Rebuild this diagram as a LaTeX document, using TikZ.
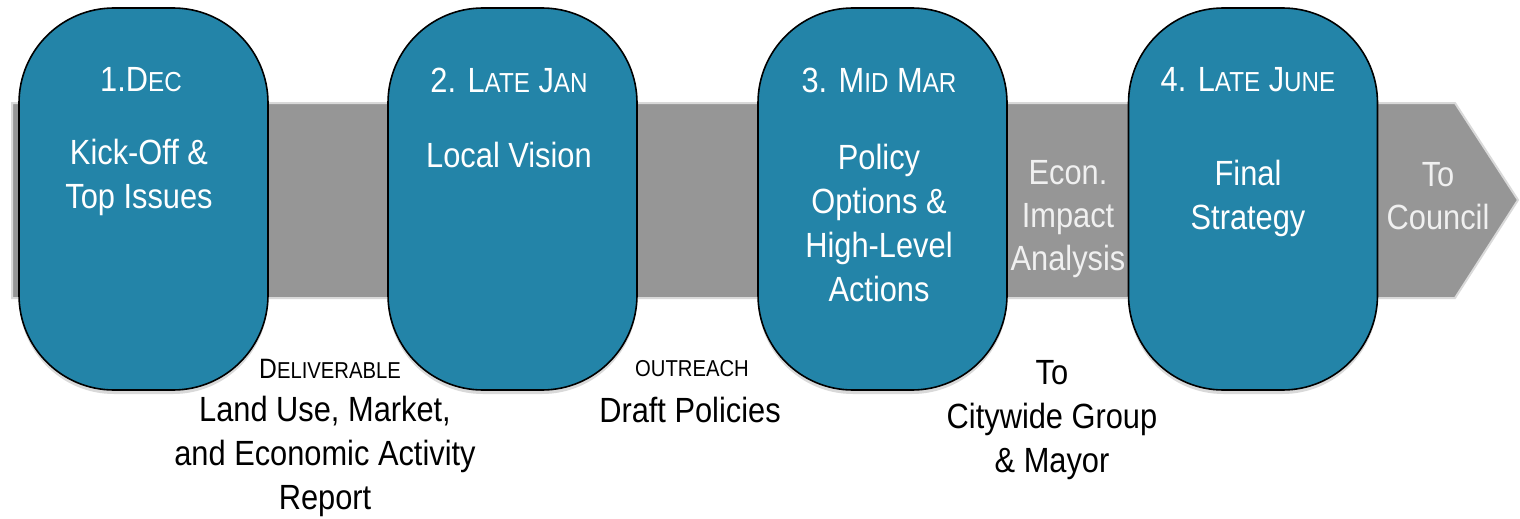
\documentclass[tikz,border=0pt]{standalone}
\usepackage{fontspec}
\setmainfont{Liberation Sans}[FakeStretch=0.88]
\usetikzlibrary{shadows}
\definecolor{boxblue}{RGB}{35,132,168}
\definecolor{arrowgray}{RGB}{150,150,150}
\definecolor{lighttext}{RGB}{240,240,240}
\newcommand\mysc[1]{{\fontsize{27.5}{27.5}\selectfont #1}}
\newcommand\mytiny[1]{{\fontsize{23}{23}\selectfont #1}}
\tikzset{
  stage/.style={draw=black, line width=1.6pt, fill=boxblue, rounded corners=95pt,
    minimum width=249pt, minimum height=382pt, inner sep=0pt,
    drop shadow={shadow xshift=0pt, shadow yshift=-4pt, fill=black!25, opacity=0.6}},
  intext/.style={text=white, align=center, font=\fontsize{35}{44}\selectfont, inner sep=0pt},
  graytext/.style={text=lighttext, align=center, font=\fontsize{35}{43}\selectfont, inner sep=0pt},
  outtext/.style={text=black, align=center, font=\fontsize{35}{44}\selectfont, inner sep=0pt},
}
\begin{document}
\begin{tikzpicture}[x=1pt,y=-1pt]
\useasboundingbox (0,0) rectangle (1520,519);
% band arrow
\draw[draw=black!15, line width=2pt, fill=arrowgray]
  (12,103) -- (1455,103) -- (1518,200) -- (1455,298) -- (12,298) -- cycle;
% stages
\node[stage] (b1) at (143.5,199) {};
\node[stage] (b2) at (512.5,199) {};
\node[stage] (b3) at (882.5,199) {};
\node[stage] (b4) at (1253,199) {};
% titles
\node[intext] (t1) at (141,80) {1.D\mysc{EC}};
\node[intext] (t2) at (509,80) {2. L\mysc{ATE} J\mysc{AN}};
\node[intext] (t3) at (879,80) {3. M\mysc{ID} M\mysc{AR}};
\node[intext] (t4) at (1248,80) {4. L\mysc{ATE} J\mysc{UNE}};
% bodies
\node[intext] (c1) at (139,177) {Kick-Off \&\\Top Issues};
\node[intext] (c2) at (509,155) {Local Vision};
\node[intext] (c3) at (879,223) {Policy\\Options \&\\High-Level\\Actions};
\node[intext] (c4) at (1248,198) {Final\\Strategy};
% labels on band
\node[graytext] (econ) at (1068,219) {Econ.\\Impact\\Analysis};
\node[graytext] (council) at (1438,196) {To\\Council};
% below
\node[outtext, font=\fontsize{28}{28}\selectfont] (del) at (330,369) {D\mytiny{ELIVERABLE}};
\node[outtext] (rep) at (325,456) {Land Use, Market,\\and Economic Activity\\Report};
\node[outtext] (outr) at (692,369) {\mytiny{OUTREACH}};
\node[outtext] (draft) at (690,410) {Draft Policies};
\node[outtext] (city) at (1052,420) {To\\Citywide Group\\\& Mayor};
\end{tikzpicture}
\end{document}
